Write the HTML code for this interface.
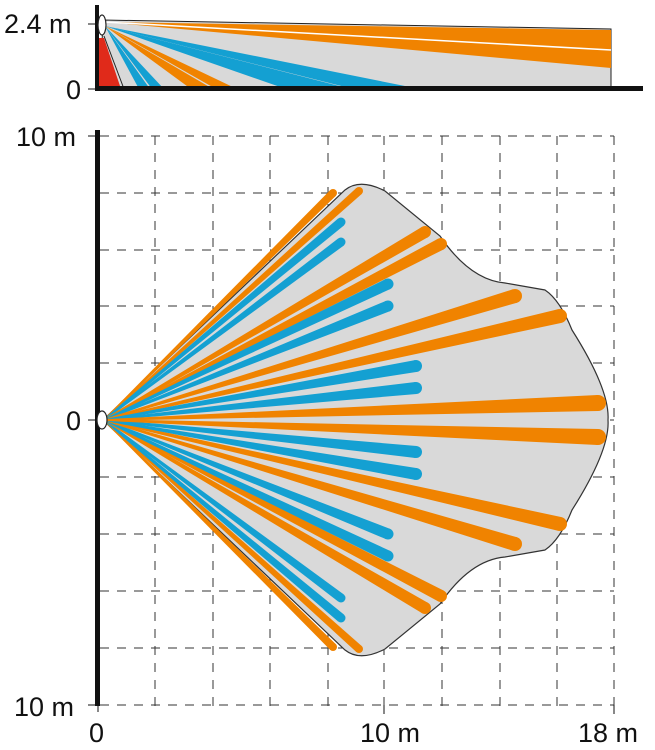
<!DOCTYPE html>
<html><head><meta charset="utf-8"><style>
body{margin:0;background:#fff}
svg{display:block}
text{font-family:"Liberation Sans",sans-serif;font-size:27px;fill:#111}
</style></head><body>
<svg id="s" width="655" height="750" viewBox="0 0 655 750" xmlns="http://www.w3.org/2000/svg">
<!-- top side view -->
<polygon points="103,20 611,29 611,89 100,89" fill="#d9d9d9" stroke="#222" stroke-width="1"/>
<g id="top"></g>
<rect x="95" y="86" width="548" height="5" fill="#111"/>
<rect x="95" y="5" width="4" height="85" fill="#111"/>
<line x1="88" y1="24" x2="95" y2="24" stroke="#111" stroke-width="1"/>
<line x1="88" y1="89" x2="95" y2="89" stroke="#111" stroke-width="1"/>
<ellipse cx="102" cy="25" rx="4" ry="10" fill="#fff" stroke="#222" stroke-width="1.2"/>
<text x="4" y="33">2.4 m</text>
<text x="66" y="99">0</text>
<!-- grid -->
<g id="grid" stroke="#333" stroke-width="1" stroke-dasharray="9,8" fill="none"></g>
<path d="M103,420 L345,190 Q360,178 385,191 L440,236 Q470,280 505,283 L545,290 Q560,300 572,330 Q610,390 608,420 Q610,450 572,510 Q560,540 545,550 L505,557 Q470,560 440,604 L385,649 Q360,662 345,650 Z" fill="#d9d9d9" stroke="#333" stroke-width="1.2"/>
<g id="rays"></g>
<rect x="95" y="130" width="5" height="576" fill="#111"/>
<line x1="88" y1="136" x2="95" y2="136" stroke="#111"/>
<line x1="88" y1="420" x2="95" y2="420" stroke="#111"/>
<line x1="88" y1="705" x2="95" y2="705" stroke="#111"/>
<line x1="98" y1="705" x2="98" y2="712" stroke="#111"/>
<line x1="384" y1="705" x2="384" y2="714" stroke="#111"/>
<line x1="614" y1="705" x2="614" y2="714" stroke="#111"/>
<ellipse cx="102" cy="420" rx="5" ry="9" fill="#fff" stroke="#222" stroke-width="1.2"/>
<text x="16" y="146">10 m</text>
<text x="66" y="430">0</text>
<text x="14" y="716">10 m</text>
<text x="89" y="742">0</text>
<text x="360" y="742">10 m</text>
<text x="578" y="742">18 m</text>
</svg>
<script>
var NS="http://www.w3.org/2000/svg";
function el(p,n,a){var e=document.createElementNS(NS,n);for(var k in a)e.setAttribute(k,a[k]);p.appendChild(e);return e;}
var g=document.getElementById('grid');
[155,213,270,328,384,442,500,557,614].forEach(function(x){el(g,'line',{x1:x,y1:136,x2:x,y2:712});});
[136,193,250,306,363,420,477,534,591,648,705].forEach(function(y){el(g,'line',{x1:100,y1:y,x2:614,y2:y});});
var O='#f08300',B='#14a0d2';
function ray(p,x0,y0,x1,y1,w0,w1,c,round){
 var dx=x1-x0,dy=y1-y0,L=Math.hypot(dx,dy),nx=-dy/L,ny=dx/L;
 var pts=[[x0+nx*w0,y0+ny*w0],[x1+nx*w1,y1+ny*w1],[x1-nx*w1,y1-ny*w1],[x0-nx*w0,y0-ny*w0]];
 el(p,'polygon',{points:pts.map(function(q){return q.join(',')}).join(' '),fill:c});
 if(round)el(p,'circle',{cx:x1,cy:y1,r:w1,fill:c});
}
var R=document.getElementById('rays');
var up=[[333,193,4,O],[359,191,4,O],[341,222,4.5,B],[341,242,4.5,B],[425,232,6,O],[441,244,6,O],[388,284,5.5,B],[388,306,5.5,B],[515,296,7,O],[560,316,7,O],[416,366,6,B],[416,388,6,B],[598,403,8,O]];
up.forEach(function(r){
 ray(R,104,420,r[0],r[1],0.8,r[2],r[3],true);
 ray(R,104,420,r[0],840-r[1],0.8,r[2],r[3],true);
});
var T=document.getElementById('top');
// red zone
el(T,'polygon',{points:'99,38 104,38 121,89 99,89',fill:'#e02a1a'});
el(T,'line',{x1:104,y1:36,x2:124,y2:89,stroke:'#222','stroke-width':1});
// orange upper band
el(T,'polygon',{points:'104,22 611,30 611,68',fill:O});
el(T,'line',{x1:104,y1:22,x2:611,y2:50,stroke:'#fff','stroke-width':1.5});
function fan(a,b,c){el(T,'polygon',{points:'105,26 '+a+',89 '+b+',89',fill:c});}
fan(139,150,B);fan(152,164,B);fan(191,213,O);fan(216,237,O);fan(286,351,B);fan(353,420,B);
</script>
</body></html>
